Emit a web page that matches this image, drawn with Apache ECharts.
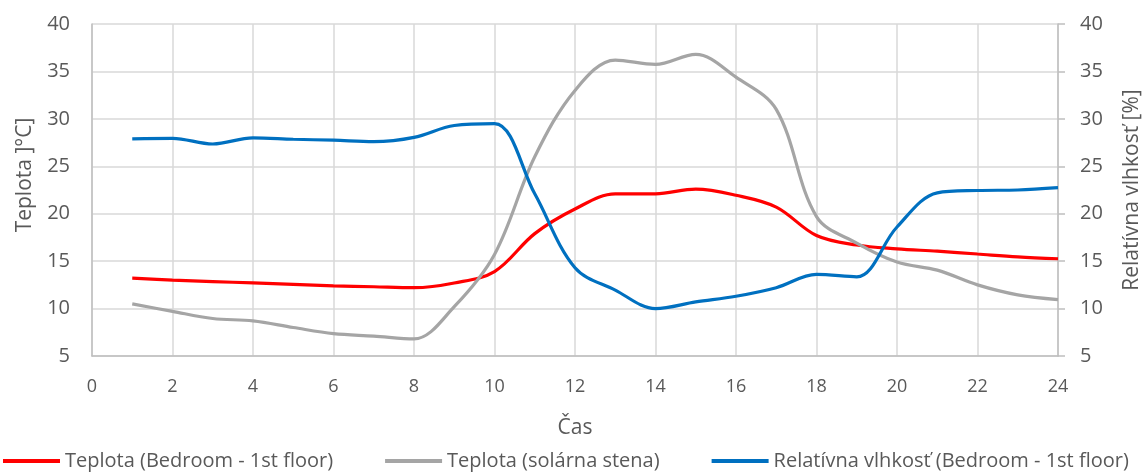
<!DOCTYPE html>
<html><head><meta charset="utf-8">
<script src="https://cdn.jsdelivr.net/npm/echarts@6/dist/echarts.min.js"></script>
<style>html,body{margin:0;padding:0;background:#fff}#c{width:1144px;height:472px}</style>
</head><body><div id="c"></div>
<script>
var hours = [1,2,3,4,5,6,7,8,9,10,11,12,13,14,15,16,17,18,19,20,21,22,23,24];
var tempBedroom = [13.2,13.0,12.85,12.7,12.55,12.4,12.3,12.2,12.7,13.9,17.9,20.5,22.1,22.1,22.6,21.95,20.7,17.7,16.7,16.3,16.05,15.75,15.45,15.25];
var tempSolar = [10.5,9.7,8.95,8.7,8.0,7.35,7.1,6.8,10.2,15.7,26.0,33.0,36.2,35.75,36.8,34.4,31.0,19.7,16.9,14.9,14.05,12.5,11.45,10.95];
var humidity = [27.9,27.95,27.35,28.0,27.85,27.75,27.6,28.05,29.3,29.5,22.1,14.3,11.95,10.0,10.7,11.3,12.2,13.6,13.35,18.6,22.2,22.45,22.5,22.75];
var seriesNames = ['Teplota (Bedroom - 1st floor)','Teplota (solárna stena)','Relatívna vlhkosť (Bedroom - 1st floor)'];
var colors = ['#ff0000','#a5a5a5','#0070c0'];

function pairs(v){ return hours.map(function(h,i){ return [h, v[i]]; }); }
var FONT = '"Open Sans",sans-serif';
var C = '#595959';

var chart = echarts.init(document.getElementById('c'));
chart.setOption({
  animation:false,
  color:colors,
  textStyle:{fontFamily:FONT},
  grid:{left:92,right:86,top:24,bottom:116,outerBoundsMode:'none',containLabel:false},
  legend:{bottom:1,left:3,width:1141,padding:0,itemWidth:57,itemHeight:4,itemGap:52,icon:'rect',
    textStyle:{color:C,fontFamily:FONT,fontSize:20},
    data:seriesNames},
  xAxis:{type:'value',min:0,max:24,interval:2,
    name:'Čas',nameLocation:'middle',nameGap:62,nameTextStyle:{color:C,fontFamily:FONT,fontSize:21},
    axisLine:{show:true,lineStyle:{color:'#bfbfbf',width:1.5}},axisTick:{show:false},
    axisLabel:{margin:22,color:C,fontFamily:FONT,fontSize:18},
    splitLine:{show:true,lineStyle:{color:'#d9d9d9',width:1.5}}},
  yAxis:[
    {type:'value',min:5,max:40,interval:5,position:'left',
     name:'Teplota ]°C]',nameLocation:'middle',nameGap:56,
     nameTextStyle:{color:C,fontFamily:FONT,fontSize:21,padding:[0,0,0,30]},
     axisLine:{show:true,lineStyle:{color:'#bfbfbf',width:1.5}},axisTick:{show:false},
     axisLabel:{margin:22,color:C,fontFamily:FONT,fontSize:20},
     splitLine:{show:true,lineStyle:{color:'#d9d9d9',width:1.5}}},
    {type:'value',min:5,max:40,interval:5,position:'right',
     name:'Relatívna vlhkosť [%]',nameLocation:'middle',nameGap:64,nameRotate:90,
     nameTextStyle:{color:C,fontFamily:FONT,fontSize:21},
     axisLine:{show:true,lineStyle:{color:'#bfbfbf',width:1.5}},axisTick:{show:true,length:7,lineStyle:{color:'#bfbfbf',width:1.5}},
     axisLabel:{margin:22,color:C,fontFamily:FONT,fontSize:20},
     splitLine:{show:false}}
  ],
  series:[
    {name:seriesNames[0],type:'line',smooth:0.35,showSymbol:false,yAxisIndex:0,lineStyle:{width:3.2,color:colors[0]},data:pairs(tempBedroom)},
    {name:seriesNames[1],type:'line',smooth:0.35,showSymbol:false,yAxisIndex:0,lineStyle:{width:3.2,color:colors[1]},data:pairs(tempSolar)},
    {name:seriesNames[2],type:'line',smooth:0.35,showSymbol:false,yAxisIndex:1,lineStyle:{width:3.2,color:colors[2]},data:pairs(humidity)}
  ]
});
</script></body></html>
